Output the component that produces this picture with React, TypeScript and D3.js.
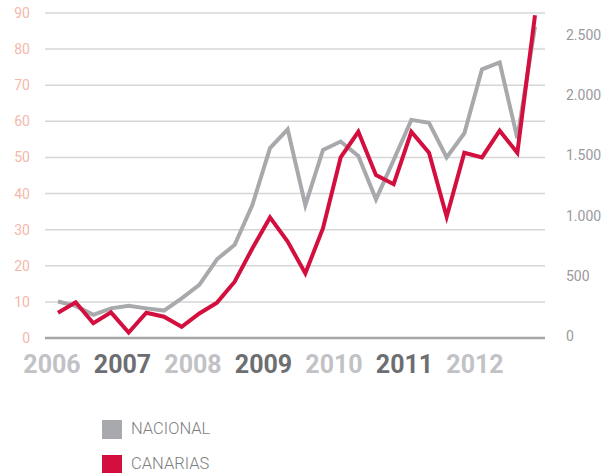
import * as d3 from 'd3'

// quarterly points, 2006 Q1 .. 2012 Q4
const nacional = [
  10.1, 8.9, 6.4, 8.2, 8.9, 8.2, 7.6, 11.0, 14.7, 21.8, 25.8, 36.8, 52.6, 57.8,
  36.8, 52.1, 54.4, 50.4, 38.4, 49.3, 60.4, 59.6, 50.0, 56.7, 74.4, 76.3, 55.3, 86.2,
]
const canarias = [
  7.0, 9.9, 4.1, 7.1, 1.5, 7.0, 5.9, 3.1, 6.8, 9.8, 15.6, 24.8, 33.4, 26.7,
  17.9, 30.4, 50.0, 57.1, 45.1, 42.6, 57.1, 51.3, 33.6, 51.3, 50.0, 57.4, 51.3, 89.4,
]
const years = ['2006', '2007', '2008', '2009', '2010', '2011', '2012']
const leftTicks = [0, 10, 20, 30, 40, 50, 60, 70, 80, 90]
const rightTicks = [0, 500, 1000, 1500, 2000, 2500]
const legendItems = [
  { label: 'NACIONAL', color: '#a7a9ac' },
  { label: 'CANARIAS', color: '#d20f3e' },
]

const W = 603
const H = 473

export default function App() {
  const x = d3.scaleLinear().domain([0, nacional.length - 1]).range([58, 535])
  const y = d3.scaleLinear().domain([0, 90]).range([338, 13])
  const yRight = d3.scaleLinear().domain([0, 2500]).range([336, 35])
  const yearX = d3.scalePoint<string>().domain(years).range([52, 475])

  const line = d3
    .line<number>()
    .x((_, i) => x(i))
    .y((d) => y(d))

  const font = 'Roboto, "DejaVu Sans", sans-serif'

  return (
    <svg
      width={W}
      height={H}
      style={{ position: 'absolute', left: 0, top: 0, background: '#fff' }}
      fontFamily={font}
    >
      {leftTicks.map((t) => (
        <g key={t}>
          <line
            x1={45}
            x2={545}
            y1={y(t)}
            y2={y(t)}
            stroke={t === 0 ? '#a5a6a9' : '#d6d6d6'}
            strokeWidth={t === 0 ? 2.5 : 1.5}
          />
          <text x={30} y={y(t)} textAnchor="end" dominantBaseline="central" fontSize={14} fill="#f4b8ab">
            {t}
          </text>
        </g>
      ))}
      {rightTicks.map((t) => (
        <text key={t} x={566} y={yRight(t)} dominantBaseline="central" fontSize={14} fill="#9a9a9c">
          {t === 0 ? '0' : d3.format(',')(t).replace(',', '.')}
        </text>
      ))}

      <path d={line(nacional) ?? undefined} fill="none" stroke="#a7a9ac" strokeWidth={4} />
      <path d={line(canarias) ?? undefined} fill="none" stroke="#d20f3e" strokeWidth={4} />

      {years.map((yr, i) => (
        <text
          key={yr}
          x={yearX(yr)}
          y={373}
          textAnchor="middle"
          fontSize={25}
          fontWeight={700}
          fill={i % 2 === 0 ? '#c1c2c5' : '#6d6e71'}
        >
          {yr}
        </text>
      ))}

      {legendItems.map((it, i) => (
        <g key={it.label} transform={`translate(102,${420 + i * 35})`}>
          <rect width={20} height={i === 1 ? 18 : 19} fill={it.color} />
          <text x={29} y={13.5} fontSize={16.5} fontWeight={300} fill="#7d7e80">
            {it.label}
          </text>
        </g>
      ))}
    </svg>
  )
}
